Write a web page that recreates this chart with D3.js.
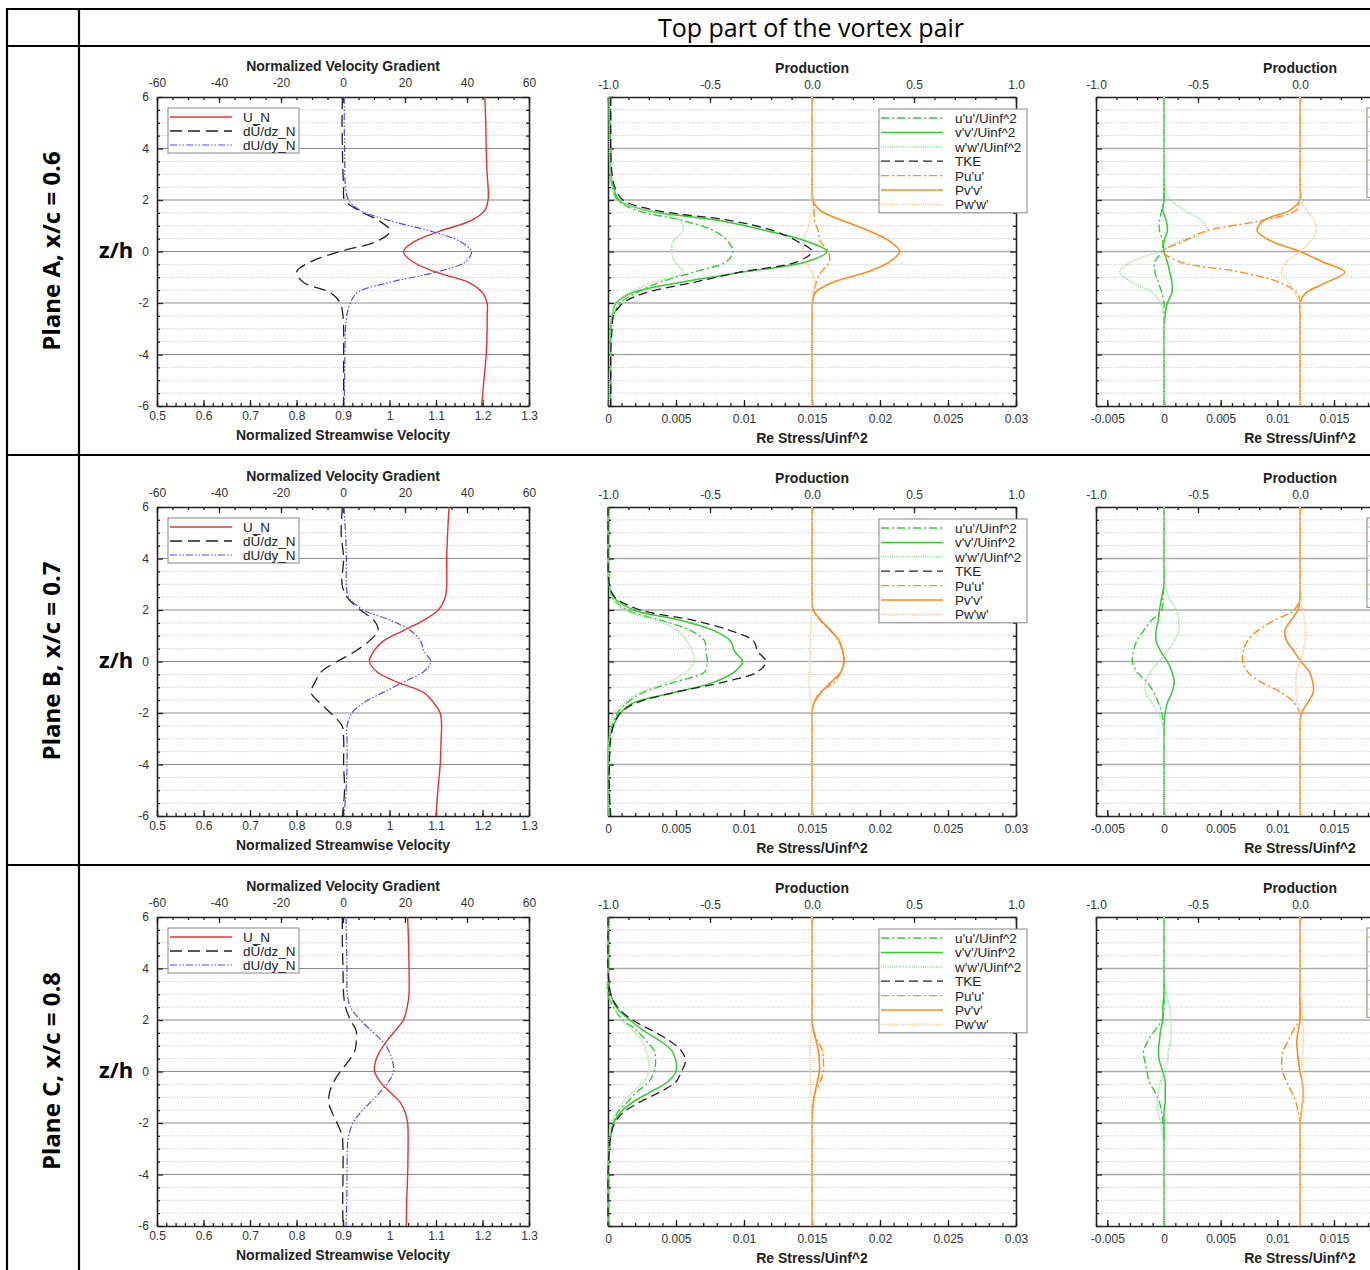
<!DOCTYPE html>
<meta charset="utf-8">
<style>
body { margin: 0; background: #fff; }
svg { display: block; font-family: "Liberation Sans", Arial, sans-serif; }
.tick text { font-size: 12px; fill: #333; }
.tick line { stroke: #222; stroke-width: 1.3; }
.domain { stroke: #222; stroke-width: 1.6; }
.axtitle { font-size: 14px; font-weight: bold; fill: #222; text-anchor: middle; }
.leg text { font-size: 13.5px; fill: #222; }
.cell { font-family: "Open Sans", sans-serif; fill: #000; }
</style>
<body>
<script src="https://d3js.org/d3.v7.min.js"></script>
<script>
// z/h stations shared by every profile, top to bottom
var zLevels = [6, 5, 4, 3, 2.5, 2, 1.6, 1.2, 0.8, 0.4, 0, -0.4, -0.8, -1.2, -1.6, -2, -2.5, -3, -4, -5, -6];

var planeLabels = ["Plane A, x/c = 0.6", "Plane B, x/c = 0.7", "Plane C, x/c = 0.8"];
var velNames = ["U_N", "d\u016A/dz_N", "dU/dy_N"];
var stressNames = ["u'u'/Uinf^2", "v'v'/Uinf^2", "w'w'/Uinf^2", "TKE", "Pu'u'", "Pv'v'", "Pw'w'"];

// tick labels
var zTicks = [-6, -4, -2, 0, 2, 4, 6];
var velTicks = [0.5, 0.6, 0.7, 0.8, 0.9, 1, 1.1, 1.2, 1.3];
var gradTicks = [-60, -40, -20, 0, 20, 40, 60];
var stressTicks = [0, 0.005, 0.01, 0.015, 0.02, 0.025, 0.03];
var stressTicksZoom = [-0.005, 0, 0.005, 0.01, 0.015, 0.02, 0.025, 0.03];
var prodTicks = [-1, -0.5, 0, 0.5, 1];

// ---- plane A ----
var uA    = [1.205, 1.207, 1.208, 1.21, 1.212, 1.212, 1.205, 1.175, 1.11, 1.055, 1.03, 1.05, 1.10, 1.17, 1.2, 1.21, 1.21, 1.21, 1.208, 1.203, 1.198];
var dUdzA = [-0.2, -0.3, -0.2, 0, 0.2, 0.5, 5, 11.5, 15.2, 11, -0.9, -10.5, -15, -12.7, -4, -0.9, 0, 0.2, 0.2, 0.2, 0.2];
var dUdyA = [0.4, 0.4, 0.5, 0.6, 0.8, 1.8, 5.5, 15, 28, 37.6, 41.4, 39.5, 30, 15, 4.5, 2.4, 1.2, 0.8, 0.6, 0.5, 0.4];

var uuA  = [0.0002, 0.0002, 0.0002, 0.0002, 0.0003, 0.0007, 0.0021, 0.0055, 0.0078, 0.0088, 0.0092, 0.0087, 0.0063, 0.0038, 0.0021, 0.0009, 0.0004, 0.0002, 0.0002, 0.0002, 0.0002];
var vvA  = [0.0001, 0.0001, 0.0002, 0.0002, 0.0004, 0.0008, 0.0028, 0.0082, 0.0117, 0.0146, 0.0161, 0.0146, 0.0099, 0.0053, 0.0018, 0.0006, 0.0003, 0.0002, 0.0002, 0.0002, 0.0002];
var wwA  = [0.0001, 0.0001, 0.0001, 0.0002, 0.0003, 0.0006, 0.0028, 0.0053, 0.0055, 0.0048, 0.0047, 0.0049, 0.0055, 0.0033, 0.0016, 0.0006, 0.0003, 0.0002, 0.0002, 0.0001, 0.0001];
var tkeA = [0.0002, 0.0002, 0.0002, 0.0003, 0.0005, 0.0011, 0.0035, 0.009, 0.0122, 0.0139, 0.015, 0.0139, 0.0097, 0.0063, 0.0028, 0.0011, 0.0004, 0.0003, 0.0002, 0.0002, 0.0002];
var puuA = [0, 0, 0, 0, 0, 0.005, 0.01, 0.012, 0.03, 0.04, 0.08, 0.085, 0.045, 0.02, 0.01, 0.002, 0, 0, 0, 0, 0];
var pvvA = [0, 0, 0, 0, 0, 0.003, 0.04, 0.15, 0.28, 0.38, 0.43, 0.38, 0.27, 0.10, 0.015, 0.002, 0, 0, 0, 0, 0];
var pwwA = [0, 0, 0, 0, 0, 0, -0.003, -0.01, -0.025, -0.04, -0.045, -0.035, 0, 0.015, 0.003, 0, 0, 0, 0, 0, 0];

var uuA2  = [0, 0, 0, 0, 0, 0, -0.0002, -0.0004, -0.0004, -0.0001, -0.0002, -0.0008, -0.0008, -0.0005, -0.0002, 0, 0, 0, 0, 0, 0];
var vvA2  = [0, 0, 0, 0, 0, 0, -0.0001, 0.0002, 0.0003, 0, 0, 0.0003, 0.0005, 0.0007, 0.0007, 0.0003, 0.0001, 0, 0, 0, 0];
var wwA2  = [0, 0, 0, 0, 0.0001, 0.0006, 0.0018, 0.0033, 0.0038, 0.0014, -0.0004, -0.0029, -0.0039, -0.0028, -0.001, -0.0003, 0, 0, 0, 0, 0];
var puuA2 = [0, 0, 0, 0, 0, 0, -0.02, -0.19, -0.46, -0.57, -0.67, -0.59, -0.29, -0.10, -0.016, 0, 0, 0, 0, 0, 0];
var pvvA2 = [0, 0, 0, 0, 0, 0, -0.05, -0.18, -0.21, -0.14, 0, 0.11, 0.22, 0.13, 0.03, 0, 0, 0, 0, 0, 0];
var pwwA2 = [0, 0, 0, 0, 0, 0, 0.033, 0.07, 0.08, 0.05, 0, -0.065, -0.09, -0.057, -0.025, 0, 0, 0, 0, 0, 0];

// ---- plane B ----
var uB    = [1.128, 1.125, 1.123, 1.123, 1.12, 1.105, 1.073, 1.03, 0.987, 0.966, 0.957, 0.973, 1.016, 1.073, 1.095, 1.109, 1.112, 1.111, 1.109, 1.104, 1.1];
var dUdzB = [-0.2, -0.6, 0.2, -0.3, 1.3, 5.6, 10, 11.3, 8.5, 4, -1.9, -7, -9, -10.3, -7.5, -4, -0.3, 0.2, 0.2, 0.5, -0.2];
var dUdyB = [0.3, 0.8, 1.1, 1.1, 1.8, 6.7, 15.3, 21.8, 25, 26.1, 28.3, 26, 19.5, 13, 6.7, 2.9, 1.3, 1.3, 1.3, 1, 0.3];

var uuB  = [0, 0, 0, 0.0001, 0.0003, 0.0014, 0.0039, 0.0061, 0.0071, 0.0072, 0.0073, 0.0071, 0.0049, 0.0026, 0.0014, 0.0007, 0.0003, 0.0001, 0, 0, 0.0001];
var vvB  = [0, 0, 0, 0.0001, 0.0004, 0.0019, 0.0053, 0.0078, 0.009, 0.0093, 0.0099, 0.0093, 0.0078, 0.0049, 0.0019, 0.0009, 0.0004, 0.0001, 0, 0, 0];
var wwB  = [0, 0, 0, 0.0001, 0.0003, 0.0012, 0.0036, 0.0051, 0.0058, 0.0062, 0.0063, 0.0058, 0.0044, 0.0024, 0.0012, 0.0004, 0.0002, 0.0001, 0, 0, 0];
var tkeB = [0, 0, 0, 0.0001, 0.0005, 0.0024, 0.0063, 0.009, 0.0107, 0.011, 0.0116, 0.011, 0.0085, 0.0049, 0.0021, 0.0009, 0.0004, 0.0002, 0.0001, 0.0001, 0.0002];
var puuB = [0, 0, 0, 0, 0, 0.005, 0.04, 0.09, 0.13, 0.15, 0.155, 0.14, 0.11, 0.04, 0.01, 0, 0, 0, 0, 0, 0];
var pvvB = [0, 0, 0, 0, 0, 0.007, 0.044, 0.093, 0.134, 0.15, 0.158, 0.142, 0.093, 0.044, 0.011, 0, 0, 0, 0, 0, 0];
var pwwB = [0, 0, 0, 0, 0, -0.002, -0.005, -0.007, -0.008, -0.01, -0.011, -0.013, -0.015, -0.01, -0.004, 0, 0, 0, 0, 0, 0];

var uuB2  = [0, 0, 0, 0, -0.0001, -0.0002, -0.0011, -0.0018, -0.0024, -0.0027, -0.0028, -0.0024, -0.0015, -0.0009, -0.0005, -0.0002, 0, 0, 0, 0, 0];
var vvB2  = [0, 0, 0, 0, -0.0002, -0.0004, -0.0005, -0.0007, -0.0007, -0.0003, 0.0003, 0.0007, 0.0009, 0.0007, 0.0003, 0.0001, 0, 0, 0, 0, 0];
var wwB2  = [0, 0, 0, 0.0001, 0.0004, 0.0011, 0.0013, 0.0013, 0.0009, 0.0003, -0.0005, -0.0012, -0.0016, -0.0016, -0.0011, -0.0005, -0.0001, 0, 0, 0, 0];
var puuB2 = [0, 0, 0, 0, 0, -0.028, -0.126, -0.208, -0.257, -0.278, -0.281, -0.257, -0.19, -0.093, -0.028, -0.003, 0, 0, 0, 0, 0];
var pvvB2 = [0, 0, 0, 0, 0, -0.01, -0.044, -0.074, -0.065, -0.03, 0.005, 0.046, 0.062, 0.065, 0.038, 0.008, 0, 0, 0, 0, 0];
var pwwB2 = [0, 0, 0, 0, 0.005, 0.013, 0.022, 0.028, 0.025, 0.015, 0, -0.018, -0.02, -0.02, -0.012, 0, 0, 0, 0, 0, 0];

// ---- plane C ----
var uC    = [1.039, 1.041, 1.042, 1.042, 1.038, 1.03, 1.013, 0.995, 0.98, 0.97, 0.968, 0.98, 1.001, 1.023, 1.034, 1.039, 1.04, 1.04, 1.039, 1.037, 1.036];
var dUdzC = [-0.2, -0.2, 0, 0.2, 0.8, 2.4, 4.2, 4.3, 3.8, 1.8, -0.9, -3, -4.3, -4.6, -3.5, -1.9, -0.3, 0, 0, -0.1, 0];
var dUdyC = [1, 1.1, 1.3, 1.4, 2.4, 5.6, 9, 12.5, 14.8, 16, 16.3, 14.7, 12, 8.8, 5.6, 3.2, 1.8, 1.4, 1.3, 1.2, 1];

var uuC  = [0, 0, 0, 0, 0.0004, 0.0011, 0.0021, 0.0028, 0.0034, 0.0035, 0.0034, 0.003, 0.0021, 0.0014, 0.0007, 0.0004, 0.0002, 0.0001, 0, 0, 0];
var vvC  = [0, 0, 0, 0.0002, 0.0006, 0.0016, 0.0026, 0.0038, 0.0047, 0.005, 0.005, 0.0044, 0.0031, 0.0018, 0.0009, 0.0004, 0.0002, 0.0001, 0, 0, 0];
var wwC  = [0, 0, 0, 0, 0.0004, 0.001, 0.0018, 0.0025, 0.0028, 0.003, 0.003, 0.0026, 0.0018, 0.0011, 0.0006, 0.0002, 0.0001, 0, 0, 0, 0];
var tkeC = [0, 0, 0, 0.0002, 0.0007, 0.0018, 0.0032, 0.0045, 0.0054, 0.0057, 0.0054, 0.005, 0.0038, 0.0023, 0.0011, 0.0005, 0.0002, 0.0001, 0, 0, 0];
var puuC = [0, 0, 0, 0, 0, 0, 0.007, 0.026, 0.052, 0.056, 0.056, 0.04, 0.016, 0.005, 0, 0, 0, 0, 0, 0, 0];
var pvvC = [0, 0, 0, 0, 0, 0, 0.007, 0.02, 0.031, 0.036, 0.036, 0.026, 0.015, 0.007, 0.002, 0, 0, 0, 0, 0, 0];
var pwwC = [0, 0, 0, 0, 0, -0.002, -0.004, -0.008, -0.01, -0.01, -0.01, -0.008, -0.007, -0.004, -0.001, 0, 0, 0, 0, 0, 0];

var uuC2  = [0, 0, 0, 0, 0, -0.0002, -0.0008, -0.0014, -0.0018, -0.0017, -0.0015, -0.0013, -0.0008, -0.0004, -0.0002, -0.0001, 0, 0, 0, 0, 0];
var vvC2  = [0, 0, 0, 0, -0.0001, -0.0001, -0.0003, -0.0004, -0.0005, -0.0004, -0.0001, 0.0001, 0.0001, 0.0001, 0, 0, 0, 0, 0, 0, 0];
var wwC2  = [0, 0, 0, 0.0002, 0.0005, 0.0006, 0.0006, 0.0006, 0.0004, 0.0003, 0, -0.0003, -0.0005, -0.0006, -0.0005, -0.0003, -0.0001, 0, 0, 0, 0];
var puuC2 = [0, 0, 0, 0, 0, -0.003, -0.033, -0.057, -0.082, -0.09, -0.085, -0.065, -0.041, -0.02, -0.008, 0, 0, 0, 0, 0, 0];
var pvvC2 = [0, 0, 0, 0, 0, 0, -0.008, -0.016, -0.013, -0.008, 0, 0.011, 0.016, 0.013, 0.006, 0, 0, 0, 0, 0, 0];
var pwwC2 = [0, 0, 0, 0.004, 0.01, 0.013, 0.016, 0.016, 0.014, 0.012, 0.008, 0.011, 0.016, 0.014, 0.008, 0, 0, 0, 0, 0, 0];

var rows = [
  { vel: [uA, dUdzA, dUdyA], mid: [uuA, vvA, wwA, tkeA, puuA, pvvA, pwwA], zoom: [uuA2, vvA2, wwA2, null, puuA2, pvvA2, pwwA2] },
  { vel: [uB, dUdzB, dUdyB], mid: [uuB, vvB, wwB, tkeB, puuB, pvvB, pwwB], zoom: [uuB2, vvB2, wwB2, null, puuB2, pvvB2, pwwB2] },
  { vel: [uC, dUdzC, dUdyC], mid: [uuC, vvC, wwC, tkeC, puuC, pvvC, pwwC], zoom: [uuC2, vvC2, wwC2, null, puuC2, pvvC2, pwwC2] }
];

// line styles
var velStyles = [
  { color: "#e3342f", dash: null, w: 1.4 },
  { color: "#222", dash: "12,6", w: 1.3 },
  { color: "#4d4dff", dash: "7,2,1.5,2,1.5,2", w: 1.2 }
];
var stressStyles = [
  { color: "#33cc33", dash: "8,3,2,3", w: 1.4 },
  { color: "#33cc33", dash: null, w: 1.5 },
  { color: "#9de39d", dash: "1,1.2", w: 2 },
  { color: "#222", dash: "9,5", w: 1.3 },
  { color: "#ff8c1a", dash: "8,3,2,3", w: 1.4 },
  { color: "#ff8c1a", dash: null, w: 1.6 },
  { color: "#ffc996", dash: "1,1.2", w: 2 }
];

var W = 1370, H = 1270, rowStep = 410;

var svg = d3.select("body").append("svg")
    .attr("width", W)
    .attr("height", H);

// table frame
var frame = svg.append("g").attr("stroke", "#000").attr("stroke-width", 2.2);
[9, 46, 455, 865].forEach(function(yy) {
  frame.append("line").attr("x1", 6).attr("x2", W).attr("y1", yy).attr("y2", yy);
});
[7, 79].forEach(function(xx) {
  frame.append("line").attr("x1", xx).attr("x2", xx).attr("y1", 8).attr("y2", H);
});

svg.append("text").attr("class", "cell")
    .attr("x", 811).attr("y", 37)
    .attr("text-anchor", "middle")
    .style("font-size", "25px")
    .text("Top part of the vortex pair");

function fmtPlain(d) { return String(+d.toFixed(4)); }

// only ticks that land on the page (the last panel runs past the right edge)
function onPage(scale, vals) {
  return vals.filter(function(v) { return scale(v) < W - 12; });
}

function drawPanel(g, o) {
  var y = o.y, top = y.range()[1], bot = y.range()[0];
  var x0 = o.xb.range()[0], x1 = o.xb.range()[1];

  // grid
  var minor = d3.range(-5.5, 6, 0.5).filter(function(v) { return v % 2 !== 0; });
  g.append("g").selectAll("line").data(minor).join("line")
      .attr("x1", x0).attr("x2", x1)
      .attr("y1", function(d) { return y(d); }).attr("y2", function(d) { return y(d); })
      .attr("stroke", "#bbb").attr("stroke-width", 0.9).attr("stroke-dasharray", "1,1.5");
  g.append("g").selectAll("line").data([-4, -2, 0, 2, 4]).join("line")
      .attr("x1", x0).attr("x2", x1)
      .attr("y1", function(d) { return y(d); }).attr("y2", function(d) { return y(d); })
      .attr("stroke", o.majorColor).attr("stroke-width", o.majorWidth);

  // axes
  g.append("g").attr("transform", "translate(0," + bot + ")")
      .call(d3.axisBottom(o.xb).tickValues(o.bMinor).tickSize(-3).tickSizeOuter(0).tickFormat(""))
      .call(function(s) { s.select(".domain").remove(); });
  g.append("g").attr("transform", "translate(0," + bot + ")")
      .call(d3.axisBottom(o.xb).tickValues(onPage(o.xb, o.bTicks)).tickSize(-6).tickSizeOuter(0).tickPadding(o.bPad).tickFormat(o.bFmt));
  g.append("g").attr("transform", "translate(0," + top + ")")
      .call(d3.axisTop(o.xt).tickValues(o.tMinor).tickSize(-3).tickSizeOuter(0).tickFormat(""))
      .call(function(s) { s.select(".domain").remove(); });
  g.append("g").attr("transform", "translate(0," + top + ")")
      .call(d3.axisTop(o.xt).tickValues(onPage(o.xt, o.tTicks)).tickSize(-6).tickSizeOuter(0).tickPadding(o.tPad).tickFormat(o.tFmt));
  g.append("g").attr("transform", "translate(" + x0 + ",0)")
      .call(d3.axisLeft(y).tickValues(zTicks).tickSize(-6).tickSizeOuter(0).tickPadding(8)
        .tickFormat(o.leftLabels ? function(d) { return String(d); } : ""));
  g.append("g").attr("transform", "translate(" + x0 + ",0)")
      .call(d3.axisLeft(y).tickValues(minor).tickSize(-3).tickFormat(""))
      .call(function(s) { s.select(".domain").remove(); });
  g.append("g").attr("transform", "translate(" + x1 + ",0)")
      .call(d3.axisRight(y).tickValues(zTicks).tickSize(-6).tickSizeOuter(0).tickFormat(""));
  g.append("g").attr("transform", "translate(" + x1 + ",0)")
      .call(d3.axisRight(y).tickValues(minor).tickSize(-3).tickFormat(""))
      .call(function(s) { s.select(".domain").remove(); });

  var cx = (x0 + x1) / 2;
  g.append("text").attr("class", "axtitle").attr("x", cx).attr("y", top - o.titleTopGap).text(o.titleTop);
  g.append("text").attr("class", "axtitle").attr("x", cx).attr("y", bot + o.titleBotGap).text(o.titleBot);

  // profiles
  o.series.forEach(function(vals, i) {
    if (!vals) return;
    var xs = o.useTop[i] ? o.xt : o.xb;
    var st = o.styles[i];
    var line = d3.line()
        .x(function(d) { return xs(d[0]); })
        .y(function(d) { return y(d[1]); })
        .curve(d3.curveCatmullRom.alpha(0.5));
    g.append("path")
        .datum(vals.map(function(v, k) { return [v, zLevels[k]]; }))
        .attr("fill", "none")
        .attr("stroke", st.color)
        .attr("stroke-width", st.w)
        .attr("stroke-dasharray", st.dash)
        .attr("d", line);
  });

  // legend
  var items = o.series.map(function(v, i) { return { has: !!v, name: o.names[i], st: o.styles[i] }; })
      .filter(function(d) { return d.has; });
  var lx = x0 + o.legX;
  var lg = g.append("g").attr("class", "leg")
      .attr("transform", "translate(" + lx + "," + (top + o.legY) + ")");
  lg.append("rect").attr("width", o.legW).attr("height", items.length * o.legStep + 3)
      .attr("fill", "#fff").attr("stroke", "#888").attr("stroke-width", 1);
  items.forEach(function(d, i) {
    var yy = 9 + i * o.legStep;
    lg.append("line").attr("x1", 2).attr("x2", o.legLine).attr("y1", yy).attr("y2", yy)
        .attr("stroke", d.st.color).attr("stroke-width", d.st.w).attr("stroke-dasharray", d.st.dash);
    if (lx + o.legText < W) {
      lg.append("text").attr("x", o.legText).attr("y", yy + 5).text(d.name);
    }
  });
}

rows.forEach(function(r, ri) {
  var off = ri * rowStep;
  var y = d3.scaleLinear().domain([-6, 6]).range([406 + off, 97 + off]);
  var g = svg.append("g");

  // row labels
  svg.append("text").attr("class", "cell")
      .attr("transform", "translate(60," + (251 + off) + ") rotate(-90)")
      .attr("text-anchor", "middle")
      .style("font-size", "24px").style("font-weight", "bold")
      .text(planeLabels[ri]);
  svg.append("text").attr("class", "cell")
      .attr("x", 99).attr("y", 258 + off)
      .style("font-size", "22px").style("font-weight", "bold")
      .text("z/h");

  // velocity profiles
  drawPanel(g, {
    y: y,
    xb: d3.scaleLinear().domain([0.5, 1.3]).range([157, 529]),
    xt: d3.scaleLinear().domain([-60, 60]).range([157, 529]),
    bTicks: velTicks, bMinor: d3.range(0.5, 1.301, 0.02), bPad: 5, bFmt: fmtPlain,
    tTicks: gradTicks, tMinor: d3.range(-60, 61, 5), tPad: 10, tFmt: fmtPlain,
    leftLabels: true,
    majorColor: "#8a8a8a", majorWidth: 1,
    titleTop: "Normalized Velocity Gradient", titleTopGap: 26,
    titleBot: "Normalized Streamwise Velocity", titleBotGap: 34,
    series: r.vel, useTop: [false, true, true], styles: velStyles, names: velNames,
    legX: 11, legY: 11, legW: 131, legStep: 14, legLine: 64, legText: 75
  });

  // Reynolds stress + production
  drawPanel(g, {
    y: y,
    xb: d3.scaleLinear().domain([0, 0.03]).range([608, 1016]),
    xt: d3.scaleLinear().domain([-1, 1]).range([608, 1016]),
    bTicks: stressTicks, bMinor: d3.range(0, 0.03001, 0.001), bPad: 8, bFmt: fmtPlain,
    tTicks: prodTicks, tMinor: d3.range(-1, 1.001, 0.1), tPad: 8, tFmt: function(d) { return d.toFixed(1); },
    leftLabels: false,
    majorColor: "#ababab", majorWidth: 1.5,
    titleTop: "Production", titleTopGap: 24,
    titleBot: "Re Stress/Uinf^2", titleBotGap: 37,
    series: r.mid, useTop: [false, false, false, false, true, true, true], styles: stressStyles, names: stressNames,
    legX: 271, legY: 12, legW: 148, legStep: 14.4, legLine: 64, legText: 76
  });

  // zoomed Reynolds stress + production (runs past the page edge)
  drawPanel(g, {
    y: y,
    xb: d3.scaleLinear().domain([-0.006, 0.03]).range([1096, 1504]),
    xt: d3.scaleLinear().domain([-1, 1]).range([1096, 1504]),
    bTicks: stressTicksZoom, bMinor: d3.range(-0.006, 0.03001, 0.001), bPad: 8, bFmt: fmtPlain,
    tTicks: prodTicks, tMinor: d3.range(-1, 1.001, 0.1), tPad: 8, tFmt: function(d) { return d.toFixed(1); },
    leftLabels: false,
    majorColor: "#ababab", majorWidth: 1.5,
    titleTop: "Production", titleTopGap: 24,
    titleBot: "Re Stress/Uinf^2", titleBotGap: 37,
    series: r.zoom, useTop: [false, false, false, false, true, true, true], styles: stressStyles, names: stressNames,
    legX: 271, legY: 11, legW: 148, legStep: 14.4, legLine: 64, legText: 76
  });
});
</script>
</body>
